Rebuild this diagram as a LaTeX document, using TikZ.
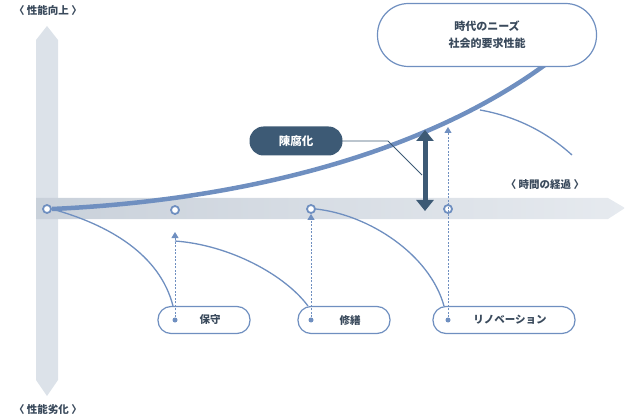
\documentclass[tikz,border=0pt]{standalone}
\usepackage{fontspec}
\setmainfont{Noto Sans CJK JP}
\usetikzlibrary{arrows.meta,shapes.arrows}
\definecolor{bl}{HTML}{6F8FC0}
\definecolor{dk}{HTML}{3D5A75}
\definecolor{tx}{HTML}{3A4A5C}
\definecolor{bar}{HTML}{CDD5DF}
\begin{document}
\begin{tikzpicture}[x=1pt,y=-1pt,
  lbl/.style={font=\bfseries\fontsize{10.5}{12}\selectfont,text=tx},
  pill/.style={draw=bl,line width=1.2pt,fill=white,rounded corners=13pt,minimum height=27pt,font=\bfseries\fontsize{10.5}{12}\selectfont,text=tx},
  ring/.style={circle,draw=bl,line width=1.8pt,fill=white,minimum size=8pt,inner sep=0pt},
  decay/.style={draw=bl,line width=1.3pt},
  dots/.style={draw=bl,line width=1pt,dash pattern=on 2pt off 1.5pt,-{Triangle[length=6pt,width=7pt]}},
  dot/.style={circle,fill=bl,minimum size=5pt,inner sep=0pt}]
\useasboundingbox (0,0) rectangle (625,420);
% bars
\shade[top color=bar!70!white,bottom color=bar!70!white] (36,40) -- (47,26) -- (58,40) -- (58,380) -- (47,396) -- (36,380) -- cycle;
\shade[left color=bar!95!gray,right color=bar!50!white] (36,198) -- (608,198) -- (625,208) -- (608,219) -- (36,219) -- cycle;
% labels
\node[lbl] (up) at (48,10) {〈 性能向上 〉};
\node[lbl] (down) at (48,409) {〈 性能劣化 〉};
\node[lbl] (time) at (545,185) {〈 時間の経過 〉};
% rings
\node[ring] (r0) at (47,209) {};
\node[ring] (r1) at (175,210) {};
\node[ring] (r2) at (311,209) {};
\node[ring] (r3) at (448,209) {};
% pills
\node[pill,minimum width=92pt] (p1) at (204,320) {\hspace{12pt}保守};
\node[pill,minimum width=92pt] (p2) at (344,320) {\hspace{12pt}修繕};
\node[pill,minimum width=142pt] (p3) at (504,320) {\hspace{12pt}リノベーション};
\node[dot] (d1) at (175,320) {};
\node[dot] (d2) at (311,320) {};
\node[dot] (d3) at (448,320) {};
\coordinate (a1) at (175,232);
\coordinate (a3) at (448,127);
\coordinate (s1) at (175,241);
% decay curves
\draw[decay] (r0.east) .. controls (110,225) and (160,255) .. (173,306);
\draw[decay] (s1) .. controls (230,245) and (285,275) .. (308,306);
\draw[decay] (r2.east) .. controls (370,215) and (430,255) .. (444,306);
\coordinate (e1) at (480,110);
\coordinate (e2) at (572,155);
\draw[decay] (e1) .. controls (520,117) and (550,135) .. (e2);
% dotted arrows
\draw[dots] (d1) -- (a1);
\draw[dots] (d2) -- (r2.south);
\draw[dots] (d3) -- (a3);
% main curve
\coordinate (tip) at (573,43);
\draw[bl,line width=4.5pt,-{Triangle[length=14pt,width=16pt]}] (r0.east) .. controls (250,200) and (440,150) .. (tip);
% top pill
\node[pill,minimum width=219pt,minimum height=63pt,rounded corners=31pt,align=center,font=\bfseries\fontsize{11}{17}\selectfont] (need) at (487,35) {時代のニーズ\\社会的要求性能};
% obsolescence
\node[fill=dk,rounded corners=14pt,minimum width=93pt,minimum height=29pt,text=white,font=\bfseries\fontsize{11.5}{13}\selectfont] (obs) at (296,141) {陳腐化};
\coordinate (dh) at (425,130);
\coordinate (dl) at (425,211);
\draw[dk,line width=5pt,{Triangle[length=11pt,width=17pt]}-{Triangle[length=11pt,width=17pt]}] (dh) -- (dl);
\coordinate (k) at (388,141);
\coordinate (k2) at (422,175);
\draw[dk,line width=0.8pt] (obs.east) -- (k) -- (k2);
\end{tikzpicture}
\end{document}
